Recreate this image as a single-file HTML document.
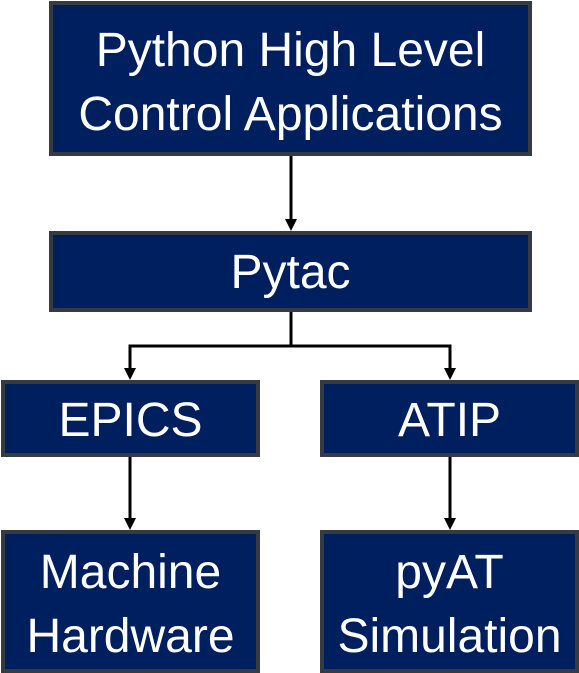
<!DOCTYPE html>
<html><head><style>
body{margin:0;width:579px;height:673px;background:#fff;position:relative;overflow:hidden;font-family:"Liberation Sans","DejaVu Sans",sans-serif}
.b{position:absolute;box-sizing:border-box;background:#001f5e;border:4px solid #353b40;color:#fff;display:flex;align-items:center;justify-content:center;text-align:center;font-size:48px;line-height:64px;letter-spacing:0;padding-top:5px}
</style></head><body>
<div class="b" style="left:49px;top:1px;width:483px;height:155px;padding-top:8px">Python High Level<br>Control Applications</div>
<div class="b" style="left:49px;top:231px;width:483px;height:81px;padding-top:2px">Pytac</div>
<div class="b" style="left:1px;top:380px;width:259px;height:77px">EPICS</div>
<div class="b" style="left:320px;top:380px;width:259px;height:77px">ATIP</div>
<div class="b" style="left:1px;top:530px;width:259px;height:143px;padding-top:7px">Machine<br>Hardware</div>
<div class="b" style="left:320px;top:530px;width:259px;height:143px;padding-top:7px">pyAT<br>Simulation</div>
<svg width="579" height="673" style="position:absolute;left:0;top:0">
<g stroke="#000" stroke-width="3" fill="none">
<line x1="291" y1="156" x2="291" y2="220"/>
<polyline points="291,312 291,346 130,346 130,370"/>
<polyline points="291,346 450,346 450,370"/>
<line x1="130" y1="457" x2="130" y2="520"/>
<line x1="450" y1="457" x2="450" y2="520"/>
</g>
<g fill="#000">
<polygon points="285,219 297,219 291,231"/>
<polygon points="124,368 136,368 130,380"/>
<polygon points="444,368 456,368 450,380"/>
<polygon points="124,518 136,518 130,530"/>
<polygon points="444,518 456,518 450,530"/>
</g>
</svg>
</body></html>
